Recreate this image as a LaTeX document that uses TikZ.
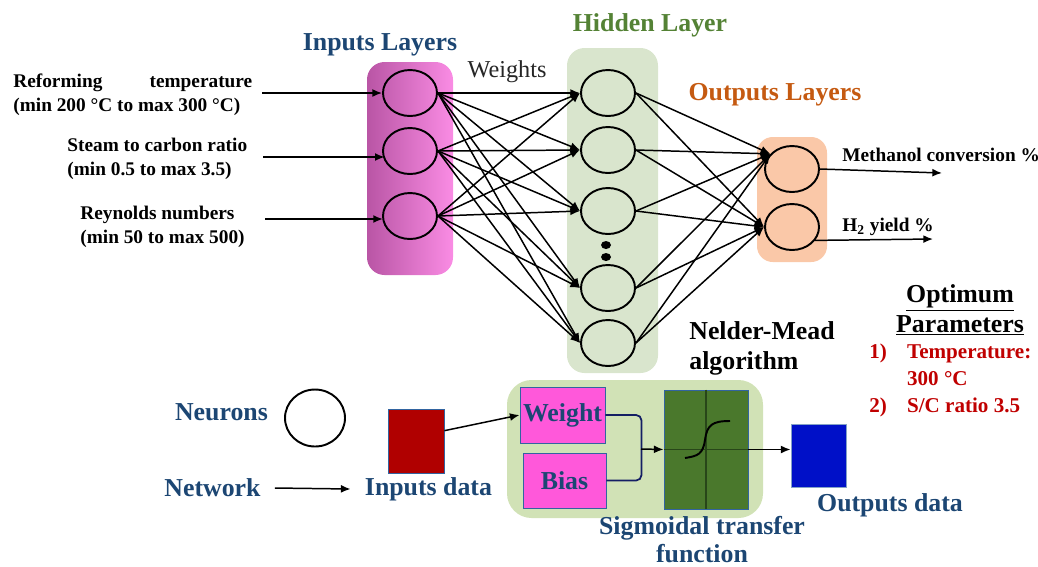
\documentclass[tikz,border=0pt]{standalone}
\usepackage{fontspec}
\setmainfont{Liberation Serif}
\usetikzlibrary{arrows.meta,shapes.geometric,calc}
\definecolor{navyt}{RGB}{28,70,115}
\definecolor{hidgreen}{RGB}{84,130,53}
\definecolor{outorange}{RGB}{197,90,17}
\definecolor{pinkL}{RGB}{185,85,165}
\definecolor{pinkR}{RGB}{250,140,228}
\definecolor{hidbox}{RGB}{217,229,205}
\definecolor{outbox}{RGB}{250,200,168}
\definecolor{botbox}{RGB}{209,226,182}
\definecolor{magbox}{RGB}{255,88,218}
\definecolor{boxedge}{RGB}{50,100,160}
\definecolor{siggreen}{RGB}{74,120,44}
\definecolor{sigaxis}{RGB}{40,70,25}
\definecolor{darkred}{RGB}{176,0,0}
\definecolor{bluebox}{RGB}{0,16,200}
\definecolor{optred}{RGB}{192,0,0}
\definecolor{bracketc}{RGB}{20,30,100}
\tikzset{
  neuron/.style={ellipse, draw=black, line width=1.1pt, minimum width=1.08cm, minimum height=0.92cm, inner sep=0pt},
  conn/.style={line width=0.85pt, -{Latex[length=5.5pt,width=4.5pt]}},
  big/.style={font=\fontsize{14.7}{17}\selectfont\bfseries, inner sep=0pt},
  small/.style={font=\fontsize{11}{13.6}\selectfont\bfseries, inner sep=0pt, align=left},
  legtext/.style={big, text=navyt},
  bbox/.style={draw=boxedge, line width=0.5pt, inner sep=0pt},
}
\begin{document}
\begin{tikzpicture}[x=0.02cm, y=-0.02cm]
\useasboundingbox (0,0) rectangle (1038,566);
% layer boxes
\shade[left color=pinkL, right color=pinkR, rounded corners=10] (367,62) rectangle (453,275);
\fill[hidbox, rounded corners=10] (567,48) rectangle (658,373);
\fill[outbox, rounded corners=9] (757,137) rectangle (827,262);
\fill[botbox, rounded corners=14] (507,380) rectangle (763,518);
% titles
\node[big, text=navyt] (tin) at (380,45) {Inputs Layers};
\node[big, text=hidgreen] (thid) at (650,25) {Hidden Layer};
\node[big, text=outorange] (tout) at (775,95) {Outputs Layers};
\node[font=\fontsize{13.8}{16}\selectfont, text=black!85, inner sep=0pt] (wts) at (507,72) {Weights};
% neurons
\node[neuron] (i1) at (410,93) {};
\node[neuron] (i2) at (410,151) {};
\node[neuron] (i3) at (410,216) {};
\node[neuron] (h1) at (608,93) {};
\node[neuron] (h2) at (608,150) {};
\node[neuron] (h3) at (608,211) {};
\node[neuron] (h4) at (608,288) {};
\node[neuron] (h5) at (608,343) {};
\node[neuron] (o1) at (792,169) {};
\node[neuron] (o2) at (792,227) {};
\fill[black] (606,245) ellipse [x radius=5, y radius=4];
\fill[black] (606,257) ellipse [x radius=5, y radius=4];
% input labels
\node[small, anchor=west] (l1) at (13,94.5) {\makebox[4.78cm][s]{Reforming temperature}\\(min 200 °C to max 300 °C)};
\node[small, anchor=west] (l2) at (67,158.5) {Steam to carbon ratio\\(min 0.5 to max 3.5)};
\node[small, anchor=west] (l3) at (80,227) {Reynolds numbers\\(min 50 to max 500)};
\coordinate (a1) at (262,93);
\coordinate (a2) at (263,157);
\coordinate (a3) at (265,219);
\draw[conn] (a1) -- (i1.west);
\draw[conn] (a2) -- ([xshift=1.5pt]a2 -| i2.west);
\draw[conn] (a3) -- ([xshift=0.5pt]a3 -| i3.west);
% connections
\foreach \i in {1,2,3}{
  \foreach \h in {1,...,5}{
    \draw[conn] (i\i.east) -- (h\h.west);
  }
}
\foreach \h in {1,...,5}{
  \draw[conn] (h\h.east) -- (o1.145);
  \draw[conn] (h\h.east) -- (o2.west);
}
% outputs
\coordinate (b1) at (942,173);
\coordinate (b2) at (933,239);
\draw[conn] (o1.east) -- (b1);
\draw[conn] (o2.-30) -- (b2);
\node[small, anchor=west] (m1) at (842,155) {Methanol conversion \%};
\node[small, anchor=west] (m2) at (842,227) {H\textsubscript{2} yield \%};
% legend
\node[legtext] (neur) at (221.5,412) {Neurons};
\node[ellipse, draw=black, line width=1.1pt, minimum width=1.2cm, minimum height=1.14cm, inner sep=0pt] (legc) at (315,418) {};
\node[legtext] (netw) at (212.5,488) {Network};
\node[legtext] (indata) at (428.5,489) {Inputs data};
\draw[conn] ([xshift=8pt]netw.east) -- ([xshift=-8pt]indata.west);
\node[bbox, fill=darkred, minimum width=1.12cm, minimum height=1.28cm] (red) at (416,441) {};
\node[bbox, fill=magbox, minimum width=1.7cm, minimum height=1.12cm, legtext] (weight) at (562.5,415) {Weight};
\node[bbox, fill=magbox, minimum width=1.66cm, minimum height=1.1cm, legtext] (bias) at (564.5,480.5) {Bias};
\draw[conn] (red.20) -- (weight.west);
\draw[bracketc, line width=1pt, rounded corners=3pt] (weight.east) -- ++(36,0) |- (bias.east);
\coordinate (junc) at (641,449);
\node[bbox, fill=siggreen, minimum width=1.68cm, minimum height=2.38cm] (sig) at (706,449.5) {};
\draw[sigaxis, line width=0.8pt] (sig.north) -- (sig.south);
\draw[sigaxis, line width=0.8pt] (sig.west) -- (sig.east);
\draw[black, line width=1.1pt] (685,458) .. controls (698,456) and (703,454) .. (705,440) .. controls (707,425) and (712,421) .. (730,421);
\draw[conn] (junc) -- (sig.west);
\node[bbox, fill=bluebox, draw=boxedge!60, minimum width=1.1cm, minimum height=1.26cm] (blue) at (818.5,455.5) {};
\draw[conn] (sig.east) -- (sig.east -| blue.west);
\node[legtext] (outdata) at (890,505) {Outputs data};
\node[legtext, align=center, font=\fontsize{14.7}{15.9}\selectfont\bfseries] (sigt) at (702,540) {Sigmoidal transfer\\function};
\node[big, align=left, anchor=west, font=\fontsize{14.7}{17}\selectfont\bfseries] (nm) at (689,348) {Nelder-Mead\\algorithm};
\node[big, align=center, font=\fontsize{14.7}{17}\selectfont\bfseries] (opt) at (960,310) {\underline{Optimum}\\\underline{Parameters}};
\node[anchor=west, inner sep=0pt, text=optred, font=\fontsize{12}{15.3}\selectfont\bfseries] (optl) at (869,380)
  {\begin{tabular}{@{}l@{\hspace{11.5pt}}l@{}}1) & Temperature:\\ & 300 °C\\ 2) & S/C ratio 3.5\end{tabular}};
\end{tikzpicture}
\end{document}
